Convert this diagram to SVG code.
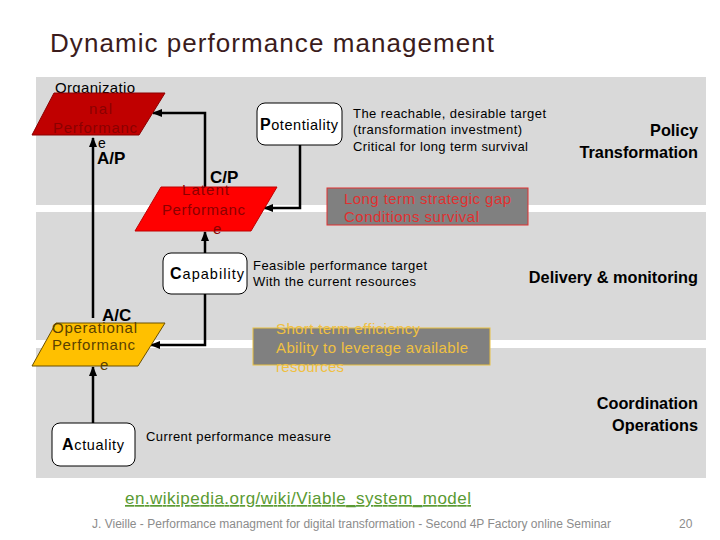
<svg xmlns="http://www.w3.org/2000/svg" width="720" height="540" viewBox="0 0 720 540">
<defs>
<style>
text{font-family:"Liberation Sans",Arial,sans-serif}
.band{fill:#d9d9d9}
.conn{fill:none;stroke:#000;stroke-width:2.5}
.box{fill:#fff;stroke:#000;stroke-width:1}
.lbl{font-size:14.5px;fill:#000}
.desc{font-size:13px;fill:#000}
.side{font-size:16.3px;font-weight:bold;fill:#000;text-anchor:end}
.ratio{font-size:17px;font-weight:bold;fill:#000}
.redtxt{font-size:15px;fill:#8b0000}
.optxt{font-size:15px;fill:#5a4000}
.gap{font-size:15px;fill:#e03030}
.short{font-size:15px;fill:#f0c040}
</style>
<marker id="ah" viewBox="0 0 10 10" refX="9" refY="5" markerWidth="4" markerHeight="4" orient="auto">
<path d="M0,1 L10,5 L0,9 z" fill="#000"/>
</marker>
</defs>
<rect width="720" height="540" fill="#fff"/>
<text x="50" y="52" font-size="26" fill="#3b1c1c" textLength="444">Dynamic performance management</text>

<g id="bands">
<rect class="band" x="36" y="77" width="670" height="128"/>
<rect class="band" x="36" y="212" width="670" height="128"/>
<rect class="band" x="36" y="348" width="670" height="130"/>
</g>

<g id="connectors">
<path class="conn" d="M93,318 L93,138" marker-end="url(#ah)"/>
<path class="conn" d="M205,187 L205,113 L153,113" marker-end="url(#ah)"/>
<path class="conn" d="M300,145 L300,208 L264,208" marker-end="url(#ah)"/>
<path class="conn" d="M205,253 L205,232" marker-end="url(#ah)"/>
<path class="conn" d="M205,294 L205,345 L151,345" marker-end="url(#ah)"/>
<path class="conn" d="M93,423 L93,367" marker-end="url(#ah)"/>
</g>

<g id="org-performance">
<text x="55" y="93" font-size="15" fill="#000" textLength="80">Organizatio</text>
<polygon points="54,93 165,93 139,135 32,135" fill="#c00000" stroke="#8b0000" stroke-width="1"/>
<text class="redtxt" x="89" y="114" textLength="23">nal</text>
<text class="redtxt" x="53" y="133" textLength="84">Performanc</text>
<text x="98" y="148" font-size="14" fill="#000">e</text>
</g>
<text class="ratio" x="97" y="164">A/P</text>

<g id="latent-performance">
<polygon points="161,187 277,187 251,231 135,231" fill="#ff0000" stroke="#c00000" stroke-width="1"/>
<text class="redtxt" x="182" y="195" textLength="47">Latent</text>
<text class="redtxt" x="162" y="215" textLength="83">Performanc</text>
<text class="redtxt" x="213" y="234">e</text>
</g>
<text class="ratio" x="210" y="183">C/P</text>

<g id="potentiality">
<rect class="box" x="257" y="103" width="85" height="42" rx="8"/>
<text class="lbl" x="260" y="130" textLength="78"><tspan font-weight="bold" font-size="16">P</tspan>otentiality</text>
</g>
<g id="potentiality-desc">
<text class="desc" x="353" y="118" textLength="193">The reachable, desirable target</text>
<text class="desc" x="353" y="134" textLength="169">(transformation investment)</text>
<text class="desc" x="353" y="151" textLength="175">Critical for long term survival</text>
</g>
<g id="policy">
<text class="side" x="698" y="136">Policy</text>
<text class="side" x="698" y="158">Transformation</text>
</g>
<g id="strategic-gap">
<rect x="327" y="188" width="201" height="37" fill="#808080" stroke="#e03030" stroke-width="1"/>
<text class="gap" x="344" y="204" textLength="167">Long term strategic gap</text>
<text class="gap" x="344" y="222" textLength="135">Conditions survival</text>
</g>

<g id="capability">
<rect class="box" x="163" y="253" width="84" height="41" rx="8"/>
<text class="lbl" x="170" y="279" textLength="74"><tspan font-weight="bold" font-size="16">C</tspan>apability</text>
</g>
<g id="capability-desc">
<text class="desc" x="253" y="270" textLength="174">Feasible performance target</text>
<text class="desc" x="253" y="286" textLength="163">With the current resources</text>
</g>
<g id="delivery">
<text class="side" x="698" y="283">Delivery &amp; monitoring</text>
</g>

<g id="operational-performance">
<polygon points="56,323 165,323 138,366 32,366" fill="#ffc000" stroke="#6b5000" stroke-width="1"/>
<text class="optxt" x="52" y="333" textLength="85">Operational</text>
<text class="optxt" x="52" y="350" textLength="83">Performanc</text>
<text class="optxt" x="100" y="370">e</text>
</g>
<text class="ratio" x="102" y="321">A/C</text>
<g id="short-term">
<rect x="253" y="328" width="237" height="37" fill="#808080" stroke="#e8c040" stroke-width="1"/>
<text class="short" x="276" y="334" textLength="144">Short term efficiency</text>
<text class="short" x="276" y="353" textLength="192">Ability to leverage available</text>
<text class="short" x="276" y="372" textLength="68">resources</text>
</g>

<g id="actuality">
<rect class="box" x="52" y="423" width="83" height="43" rx="8"/>
<text class="lbl" x="62" y="450" textLength="62"><tspan font-weight="bold" font-size="16">A</tspan>ctuality</text>
</g>
<text class="desc" x="146" y="441" textLength="185">Current performance measure</text>
<g id="coordination">
<text class="side" x="698" y="409">Coordination</text>
<text class="side" x="698" y="431">Operations</text>
</g>

<text x="125" y="504" font-size="17" fill="#5a9a32" text-decoration="underline" textLength="346">en.wikipedia.org/wiki/Viable_system_model</text>
<text x="92" y="528" font-size="12" fill="#8c8c8c" textLength="519">J. Vieille - Performance managment for digital transformation - Second 4P Factory online Seminar</text>
<text x="679" y="528" font-size="12" fill="#8c8c8c">20</text>
</svg>
